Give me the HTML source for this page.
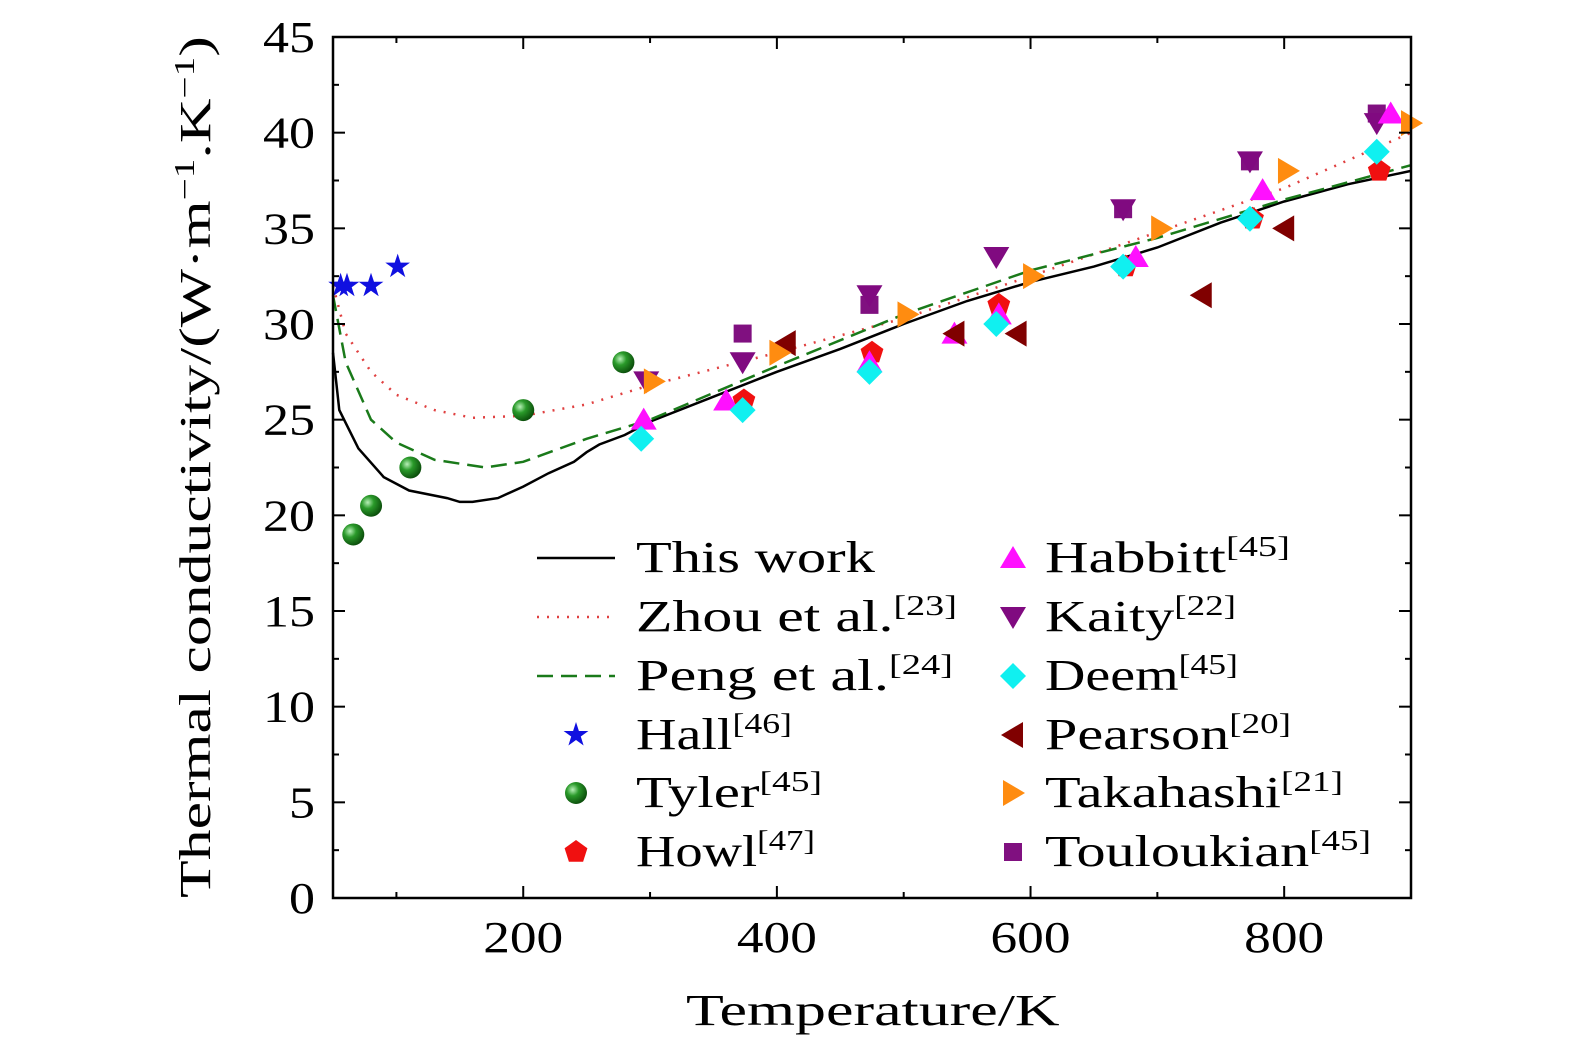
<!DOCTYPE html>
<html><head><meta charset="utf-8"><style>
body{margin:0;background:#fff;}
svg text{font-family:"Liberation Serif",serif;fill:#000;}
</style></head><body>
<svg id="chart" width="1575" height="1053" xmlns="http://www.w3.org/2000/svg">
<defs>
<radialGradient id="sph" cx="0.35" cy="0.35" r="0.7"><stop offset="0" stop-color="#b8f0b8"/><stop offset="0.4" stop-color="#2a9a2a"/><stop offset="1" stop-color="#0a4a0a"/></radialGradient>
</defs>
<g id="plot"></g>
</svg>
<script>
const xTicks=[200,400,600,800];
const yTicks=[0,5,10,15,20,25,30,35,40,45];
const thisWork=[[50,28.5],[55,25.5],[70,23.5],[90,22],[110,21.3],[140,20.9],[150,20.7],[160,20.7],[180,20.9],[200,21.5],[220,22.2],[240,22.8],[250,23.3],[260,23.7],[280,24.2],[300,24.9],[350,26.2],[400,27.5],[450,28.7],[500,30],[550,31.2],[600,32.2],[650,33],[700,34],[750,35.3],[800,36.4],[850,37.3],[900,38]];
const zhou=[[50,32],[60,29.5],[80,27.5],[100,26.3],[130,25.5],[160,25.1],[200,25.2],[250,25.8],[300,26.8],[400,28.5],[500,30.3],[600,32.5],[700,34.8],[800,37.1],[900,40]];
const peng=[[50,31.5],[60,28],[80,25],[100,23.8],[130,22.9],[170,22.5],[200,22.8],[250,24],[300,25],[400,27.8],[500,30.5],[600,32.8],[700,34.5],[800,36.5],[900,38.3]];
const hall=[[56,32],[61,32],[80,32],[101,33]];
const tyler=[[66,19],[80,20.5],[111,22.5],[200,25.5],[279,28]];
const howl=[[374,26],[475,28.5],[575,31],[675,33],[775,35.5],[875,38]];
const touloukian=[[373,29.5],[473,31],[673,36],[773,38.5],[873,41]];
const kaity=[[297,27],[373,28],[473,31.5],[573,33.5],[673,36],[773,38.5],[873,40.5]];
const habbitt=[[295,25],[360,26],[473,28],[540,29.5],[575,30.5],[683,33.5],[783,37],[884,41]];
const deem=[[293,24],[373,25.5],[473,27.5],[573,30],[673,33],[773,35.5],[873,39]];
const pearson=[[407,29],[540,29.5],[589,29.5],[735,31.5],[800,35]];
const takahashi=[[303,27],[402,28.5],[503,30.5],[602,32.5],[703,35],[803,38],[900,40.5]];

const L=333,R=1411,T=37,B=898;
const sx=v=>L+(v-50)/(850)*(R-L);
const sy=v=>B-v/45*(B-T);
const NS="http://www.w3.org/2000/svg";
const g=document.getElementById('plot');
function mk(tag,attrs,parent){const e=document.createElementNS(NS,tag);for(const k in attrs)e.setAttribute(k,attrs[k]);(parent||g).appendChild(e);return e;}
function fit(t,x,w){const bw=t.getBBox().width;if(bw>0){const s=w/bw;const a=t.getAttribute('text-anchor')||'start';t.setAttribute('transform',`translate(${x},0) scale(${s},1) translate(${-x},0)`);}}
function txt(x,y,s,anchor,size,w){const t=mk('text',{x:x,y:y,'text-anchor':anchor||'start','font-size':size||40});t.textContent=s;if(w)fit(t,x,w);return t;}

function line(data,style,name){const d=data.map((p,i)=>(i?'L':'M')+sx(p[0]).toFixed(1)+','+sy(p[1]).toFixed(1)).join('');
const p=mk('path',Object.assign({d:d,fill:'none'},style));

}
line(thisWork,{stroke:'#000','stroke-width':2.5},'this-work-line');
line(zhou,{stroke:'#e04040','stroke-width':2.5,'stroke-dasharray':'2,8'},'zhou-line');
line(peng,{stroke:'#1a7a1a','stroke-width':2.5,'stroke-dasharray':'16,8'},'peng-line');

function marker(type,x,y,parent){
  let e;
  if(type==='star'){let pts=[];for(let i=0;i<10;i++){const r=i%2?5:13,a=-Math.PI/2+i*Math.PI/5;pts.push((x+r*Math.cos(a)).toFixed(1)+','+(y+r*Math.sin(a)).toFixed(1));}e=mk('polygon',{points:pts.join(' '),fill:'#1010e0'},parent);}
  else if(type==='sphere')e=mk('circle',{cx:x,cy:y,r:11,fill:'url(#sph)'},parent);
  else if(type==='pent'){let pts=[];for(let i=0;i<5;i++){const a=-Math.PI/2+i*2*Math.PI/5;pts.push((x+12*Math.cos(a)).toFixed(1)+','+(y+12*Math.sin(a)).toFixed(1));}e=mk('polygon',{points:pts.join(' '),fill:'#f01010'},parent);}
  else if(type==='square')e=mk('rect',{x:x-9,y:y-9,width:18,height:18,fill:'#801080'},parent);
  else if(type==='down')e=mk('polygon',{points:`${x-13},${y-10} ${x+13},${y-10} ${x},${y+12}`,fill:'#800a80'},parent);
  else if(type==='up')e=mk('polygon',{points:`${x-13},${y+10} ${x+13},${y+10} ${x},${y-12}`,fill:'#ff10ff'},parent);
  else if(type==='diamond')e=mk('polygon',{points:`${x},${y-13} ${x+13},${y} ${x},${y+13} ${x-13},${y}`,fill:'#10f0f0'},parent);
  else if(type==='left')e=mk('polygon',{points:`${x+10},${y-13} ${x+10},${y+13} ${x-12},${y}`,fill:'#800000'},parent);
  else if(type==='right')e=mk('polygon',{points:`${x-10},${y-13} ${x-10},${y+13} ${x+12},${y}`,fill:'#ff8c10'},parent);
  return e;}
function series(data,type,name){data.forEach(p=>{const e=marker(type,sx(p[0]),sy(p[1]));

});}
series(touloukian,'square','touloukian-point');
series(kaity,'down','kaity-point');
series(howl,'pent','howl-point');
series(habbitt,'up','habbitt-point');
series(deem,'diamond','deem-point');
series(pearson,'left','pearson-point');
series(takahashi,'right','takahashi-point');
series(hall,'star','hall-point');
series(tyler,'sphere','tyler-point');

const fr=mk('rect',{x:L,y:T,width:R-L,height:B-T,fill:'none',stroke:'#000','stroke-width':2.5});


xTicks.forEach(v=>{mk('line',{x1:sx(v),x2:sx(v),y1:B,y2:B-12,stroke:'#000','stroke-width':2});mk('line',{x1:sx(v),x2:sx(v),y1:T,y2:T+12,stroke:'#000','stroke-width':2});
const t=txt(sx(v)-40,B+54,String(v),'start',44,80);

});
[100,300,500,700].forEach(v=>{mk('line',{x1:sx(v),x2:sx(v),y1:B,y2:B-6,stroke:'#000','stroke-width':2});mk('line',{x1:sx(v),x2:sx(v),y1:T,y2:T+6,stroke:'#000','stroke-width':2});});
yTicks.forEach(v=>{mk('line',{x1:L,x2:L+12,y1:sy(v),y2:sy(v),stroke:'#000','stroke-width':2});mk('line',{x1:R,x2:R-12,y1:sy(v),y2:sy(v),stroke:'#000','stroke-width':2});
const s=String(v);const w=s.length*26;
const t=txt(L-18-w,sy(v)+15,s,'start',44,w);


if(v<45){const m=v+2.5;mk('line',{x1:L,x2:L+6,y1:sy(m),y2:sy(m),stroke:'#000','stroke-width':2});mk('line',{x1:R,x2:R-6,y1:sy(m),y2:sy(m),stroke:'#000','stroke-width':2});}});
const xt=txt(686,1025,'Temperature/K','start',44,374);


const yg=mk('g',{transform:`translate(210,898) rotate(-90)`});
const yt=mk('text',{x:0,y:0,'font-size':44},yg);
yt.innerHTML='Thermal conductivity/(W·m<tspan dy="-16" font-size="28">−1</tspan><tspan dy="16">.K</tspan><tspan dy="-16" font-size="28">−1</tspan><tspan dy="16">)</tspan>';
fit(yt,0,862);



const rows=[558,617,676,735,793,852];
function ltxt(x,y,name,sup,w){const t=mk('text',{x:x,y:y+14,'font-size':44});t.innerHTML=name+(sup?'<tspan dy="-16" font-size="28">['+sup+']</tspan>':'');fit(t,x,w);return t;}
const leg=[['line',{stroke:'#000','stroke-width':2.5},'This work',null,239],['line',{stroke:'#e04040','stroke-width':2.5,'stroke-dasharray':'2,8'},'Zhou et al.','23',321],['line',{stroke:'#1a7a1a','stroke-width':2.5,'stroke-dasharray':'16,8'},'Peng et al.','24',317],['star',0,'Hall','46',156],['sphere',0,'Tyler','45',186],['pent',0,'Howl','47',179]];
leg.forEach((l,i)=>{const y=rows[i];
if(l[0]==='line'){mk('line',Object.assign({x1:537,x2:615,y1:y,y2:y},l[1]));}
else marker(l[0],576,y);
const t=ltxt(636,y,l[2],l[3],l[4]);

});
const leg2=[['up','Habbitt','45',245],['down','Kaity','22',191],['diamond','Deem','45',193],['left','Pearson','20',246],['right','Takahashi','21',298],['square','Touloukian','45',326]];
leg2.forEach((l,i)=>{const y=rows[i];marker(l[0],1013,y);
const t=ltxt(1045,y,l[1],l[2],l[3]);

});
</script>
</body></html>
